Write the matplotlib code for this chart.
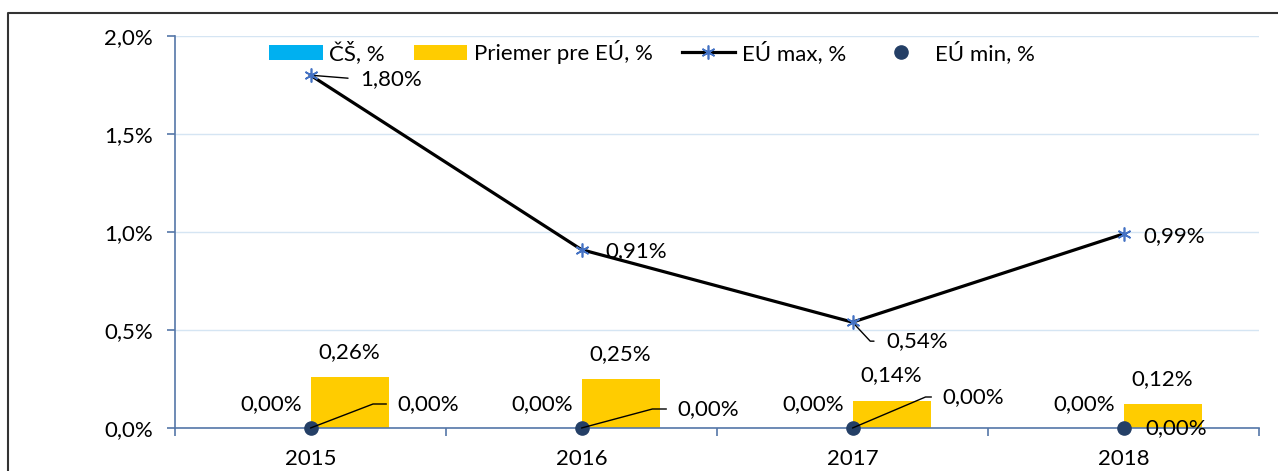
import numpy as np
import matplotlib.pyplot as plt
from matplotlib.lines import Line2D
from matplotlib.ticker import FuncFormatter, FixedLocator

plt.rcParams['font.family'] = ['Lato', 'DejaVu Sans']
plt.rcParams['font.size'] = 16

years = ['2015', '2016', '2017', '2018']
cs = [0.00, 0.00, 0.00, 0.00]          # ČŠ, %
eu_avg = [0.26, 0.25, 0.14, 0.12]      # Priemer pre EÚ, %
eu_max = [1.80, 0.91, 0.54, 0.99]      # EÚ max, %
eu_min = [0.00, 0.00, 0.00, 0.00]      # EÚ min, %

def pct(v, dec=2):
    return (f'{v:.{dec}f}%').replace('.', ',')

axis_col = '#5577a8'
fig = plt.figure(figsize=(12.78, 4.71), dpi=100)
ax = fig.add_axes([175 / 1278, 43 / 471, 1084 / 1278, 392 / 471])

x = np.arange(len(years)) + 0.5
w = 0.288
b1 = ax.bar(x - w / 2, cs, w, color='#00b0f0', label='ČŠ, %', zorder=2)
b2 = ax.bar(x + w / 2, eu_avg, w, color='#ffcc00', label='Priemer pre EÚ, %', zorder=2)
l1, = ax.plot(x, eu_max, color='black', lw=2.3, marker=(6, 2, 0), ms=10,
              mec='#4472c4', mfc='#4472c4', mew=1.2, label='EÚ max, %', zorder=4)
l2, = ax.plot(x, eu_min, ls='none', marker='o', ms=9.5, color='#243f66',
              label='EÚ min, %', zorder=5, clip_on=False)

ax.set_xlim(0, 4)
ax.set_ylim(0, 2.0)
ax.set_yticks([0, 0.5, 1.0, 1.5, 2.0])
ax.yaxis.set_major_formatter(FuncFormatter(lambda v, p: pct(v, 1)))
ax.set_xticks(x)
ax.set_xticklabels(years)
ax.xaxis.set_minor_locator(FixedLocator([0, 1, 2, 3, 4]))
ax.tick_params(axis='x', which='major', length=0, pad=15)
ax.tick_params(axis='x', which='minor', length=6, width=1.2, color=axis_col, direction='out')
ax.tick_params(axis='y', length=6, width=1.2, color=axis_col, pad=10)
ax.grid(axis='y', color='#d5e5f3', lw=1, zorder=0)
ax.set_axisbelow(True)
for s in ['top', 'right']:
    ax.spines[s].set_visible(False)
for s in ['left', 'bottom']:
    ax.spines[s].set_color(axis_col)
    ax.spines[s].set_linewidth(1.2)

# bar labels
for xi, v in zip(x, cs):
    ax.annotate(pct(v), (xi - w / 2, v), xytext=(0, 24), textcoords='offset pixels',
                ha='center', va='center')
for xi, v in zip(x, eu_avg):
    ax.annotate(pct(v), (xi + w / 2, v), xytext=(0, 25), textcoords='offset pixels',
                ha='center', va='center')

# EÚ max labels (offset in px, leader style)
max_off = [(50, -4), (24, -1), (34, -19), (20, -2)]
max_conn = ['arc3', None, 'angle,angleA=0,angleB=-47,rad=0', None]
for xi, v, off, cn in zip(x, eu_max, max_off, max_conn):
    ap = None
    if cn:
        ap = dict(arrowstyle='-', color='black', lw=1, connectionstyle=cn,
                  relpos=(0, 0.5), shrinkA=7, shrinkB=3)
    ax.annotate(pct(v), (xi, v), xytext=off, textcoords='offset pixels',
                ha='left', va='center', arrowprops=ap, zorder=6)

# EÚ min labels
min_off = [(87, 24), (96, 19), (90, 31), (22, 0)]
min_ang = [21, 15, 23, None]
for xi, v, off, ang in zip(x, eu_min, min_off, min_ang):
    ap = None
    if ang is not None:
        ap = dict(arrowstyle='-', color='black', lw=1,
                  connectionstyle=f'angle,angleA=0,angleB={ang},rad=0',
                  relpos=(0, 0.5), shrinkA=6, shrinkB=0)
    ax.annotate(pct(v), (xi, v), xytext=off, textcoords='offset pixels',
                ha='left', va='center', arrowprops=ap, zorder=6, annotation_clip=False)

fig.legend(handles=[b1, b2, l1, l2], loc='center', bbox_to_anchor=(652 / 1278, 1 - 52 / 471),
           ncol=4, frameon=False, handlelength=2.4, handleheight=0.65,
           handletextpad=0.3, columnspacing=1.3, borderpad=0, fontsize=16)

# outer chart frame (cut off at right/bottom)
fig.add_artist(Line2D([8 / 1278, 8 / 1278, 1], [0, 1 - 13 / 471, 1 - 13 / 471],
                      transform=fig.transFigure, color='#333333', lw=1.5))

fig.savefig('out.png', dpi=100)
